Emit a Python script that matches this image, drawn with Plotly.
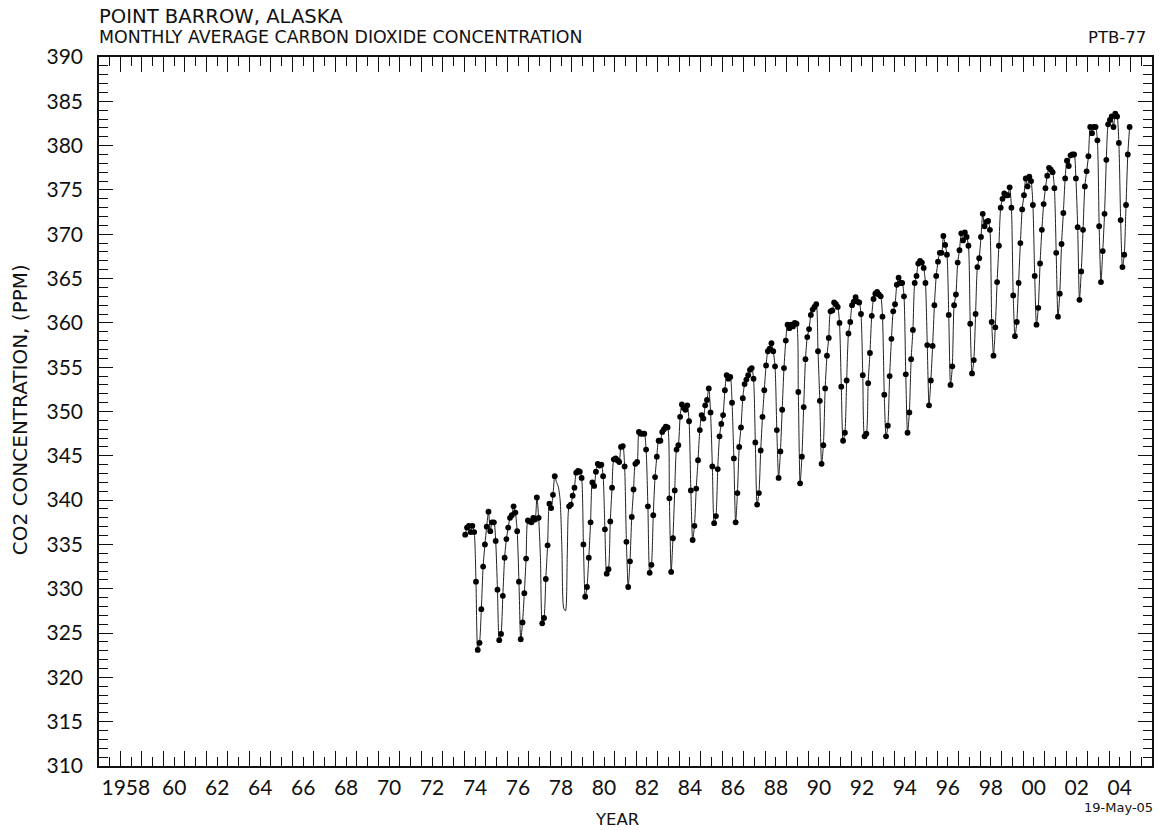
import plotly.graph_objects as go

# ---------------- data ----------------
first_year = 1974

# monthly average CO2 (ppm), Jan..Dec, one row per year 1974-2004
co2_ppm = [
    336.1, 336.9, 337.1, 336.4, 337.1, 336.4, 330.8, 323.1, 323.9, 327.7, 332.5, 335.0,  # 1974
    337.0, 338.7, 336.5, 337.5, 337.5, 335.4, 329.9, 324.2, 324.9, 329.2, 333.5, 335.6,  # 1975
    336.9, 338.0, 338.3, 339.3, 338.6, 336.5, 330.8, 324.3, 326.2, 329.5, 333.4, 337.7,  # 1976
    337.6, 337.5, 338.0, 337.8, 340.3, 338.0, 333.5, 326.1, 326.7, 331.1, 334.9, 339.6,  # 1977
    339.1, 340.6, 342.7, 342.0, 341.5, 340.0, 334.4, 327.8, 327.5, 334.0, 339.3, 339.5,  # 1978
    340.5, 341.4, 343.1, 343.3, 343.2, 342.5, 335.0, 329.1, 330.2, 333.5, 337.5, 342.0,  # 1979
    341.6, 343.2, 344.1, 343.9, 344.0, 342.7, 336.7, 331.7, 332.2, 337.6, 341.4, 344.6,  # 1980
    344.7, 344.5, 344.3, 346.0, 346.1, 343.8, 335.3, 330.2, 333.1, 338.1, 341.2, 344.1,  # 1981
    344.3, 347.7, 347.5, 347.5, 347.5, 345.7, 339.3, 331.8, 332.7, 338.3, 342.6, 344.9,  # 1982
    346.7, 346.7, 347.7, 348.0, 348.3, 348.2, 340.2, 331.9, 335.7, 341.1, 345.7, 346.2,  # 1983
    349.4, 350.8, 350.4, 350.2, 350.7, 348.9, 341.1, 335.5, 337.1, 341.3, 344.5, 347.9,  # 1984
    349.6, 349.2, 350.7, 351.3, 352.6, 349.9, 343.8, 337.4, 338.2, 343.5, 347.2, 348.6,  # 1985
    349.6, 352.4, 354.1, 353.7, 353.9, 351.0, 344.7, 337.5, 340.8, 346.0, 348.2, 351.5,  # 1986
    353.1, 353.6, 354.1, 354.7, 354.9, 353.7, 346.5, 339.5, 340.8, 345.6, 349.4, 352.4,  # 1987
    355.2, 356.8, 357.1, 357.7, 356.8, 355.1, 347.9, 342.5, 345.5, 350.2, 354.9, 358.0,  # 1988
    359.8, 359.4, 359.8, 359.6, 360.0, 359.9, 352.2, 341.9, 344.9, 350.5, 355.9, 358.4,  # 1989
    359.3, 360.9, 361.5, 361.8, 362.1, 356.8, 351.2, 344.1, 346.2, 352.6, 356.3, 358.3,  # 1990
    361.3, 361.4, 362.3, 362.1, 361.8, 360.0, 352.8, 346.7, 347.6, 353.5, 358.8, 360.1,  # 1991
    362.0, 362.4, 362.9, 362.4, 362.3, 361.0, 354.1, 347.2, 347.5, 353.2, 356.6, 360.8,  # 1992
    362.7, 363.3, 363.5, 363.2, 363.0, 360.7, 351.9, 347.2, 348.4, 354.0, 358.2, 361.3,  # 1993
    362.1, 364.3, 365.1, 364.5, 364.5, 363.0, 354.2, 347.6, 349.9, 355.9, 359.2, 364.5,  # 1994
    365.3, 366.7, 367.0, 366.8, 366.2, 364.5, 357.5, 350.7, 353.5, 357.4, 362.0, 365.3,  # 1995
    366.9, 367.9, 367.9, 369.8, 368.8, 367.7, 360.9, 353.0, 355.1, 362.0, 363.2, 366.8,  # 1996
    368.2, 370.1, 369.3, 370.2, 369.7, 368.7, 359.9, 354.3, 355.8, 361.0, 366.3, 367.3,  # 1997
    369.7, 372.3, 370.9, 371.4, 371.5, 370.5, 360.1, 356.3, 359.5, 364.6, 368.7, 373.0,  # 1998
    374.0, 374.6, 374.4, 374.4, 375.3, 373.0, 363.1, 358.5, 360.1, 364.5, 369.0, 372.8,  # 1999
    374.4, 376.3, 375.4, 376.5, 376.0, 373.3, 365.3, 359.8, 361.7, 366.7, 370.5, 373.4,  # 2000
    375.2, 376.6, 377.5, 377.3, 377.0, 375.2, 367.9, 360.7, 363.3, 368.9, 372.4, 376.3,  # 2001
    378.3, 377.7, 378.9, 379.0, 379.0, 376.3, 370.8, 362.6, 365.8, 370.5, 375.4, 377.1,  # 2002
    378.8, 382.1, 381.4, 382.1, 382.1, 380.6, 370.9, 364.6, 368.1, 372.3, 378.4, 382.4,  # 2003
    382.9, 383.3, 382.1, 383.6, 383.3, 380.3, 371.6, 366.3, 367.7, 373.3, 379.0, 382.1,  # 2004
]

# months with no observation (only the fitted curve passes there): (year, month)
gap_months = [(1977, 7), (1978, 4), (1978, 5), (1978, 6), (1978, 7),
              (1978, 8), (1978, 9), (1978, 10)]

# x-axis labels (placed mid-year) and y range
label_years = [1958, 1960, 1962, 1964, 1966, 1968, 1970, 1972, 1974, 1976, 1978,
               1980, 1982, 1984, 1986, 1988, 1990, 1992, 1994, 1996, 1998, 2000,
               2002, 2004]
label_text = ["1958\u00a0\u00a0", "60", "62", "64", "66", "68", "70", "72",
              "74", "76", "78", "80", "82", "84", "86", "88", "90", "92", "94", "96",
              "98", "00", "02", "04"]
x_range = [1957, 2006]
y_range = [310, 390]

# ---------------- build ----------------
times = [first_year + i // 12 + ((i % 12) + 0.5) / 12 for i in range(len(co2_ppm))]
gap_set = set(gap_months)
obs = [None if (first_year + i // 12, i % 12 + 1) in gap_set else v
       for i, v in enumerate(co2_ppm)]

label_map = dict(zip(label_years, label_text))
half_years = [y + 0.5 for y in range(x_range[0], x_range[1])]
half_text = [label_map.get(int(h - 0.5), "") for h in half_years]

TICKFONT = "Lato"
TFONT = "DejaVu Sans"
INK = "#111111"

fig = go.Figure()
fig.add_trace(go.Scatter(
    x=times, y=co2_ppm, mode="lines",
    line=dict(color="#222222", width=1, shape="spline", smoothing=0.7),
    hoverinfo="skip", showlegend=False))
fig.add_trace(go.Scatter(
    x=times, y=obs, mode="markers",
    marker=dict(color="black", size=5.8),
    showlegend=False))

axis_common = dict(
    showline=True, linecolor="#111111", linewidth=1.5, mirror="allticks",
    ticks="inside", tickcolor="#111111", tickwidth=1.3,
    showgrid=False, zeroline=False,
    tickfont=dict(family=TICKFONT, size=21, color=INK),
)

fig.update_xaxes(
    range=x_range, tickmode="array", tickvals=half_years, ticktext=half_text,
    ticklen=9, ticklabelstandoff=2, tickangle=0,
    minor=dict(tickmode="array", tickvals=list(range(x_range[0] + 1, x_range[1])),
               ticks="inside", ticklen=15, tickwidth=1.3, tickcolor="#111111"),
    **axis_common)
fig.update_yaxes(
    range=y_range, tickmode="linear", tick0=310, dtick=5,
    ticklen=14, ticklabelstandoff=10,
    minor=dict(dtick=1, tick0=310, ticks="inside", ticklen=9, tickwidth=1.3,
               tickcolor="#111111"),
    **axis_common)

W, H = 1159, 830
L, R, T, B = 99, 5, 57, 64
pw, ph = W - L - R, H - T - B


def px(x):
    return (x - L) / pw


def py(y):
    return (H - B - y) / ph


ann = [
    dict(text="POINT BARROW, ALASKA", x=px(97), y=py(16), xanchor="left",
         yanchor="middle", font=dict(family=TFONT, size=19.6, color=INK)),
    dict(text="MONTHLY AVERAGE CARBON DIOXIDE CONCENTRATION", x=px(97), y=py(37),
         xanchor="left", yanchor="middle",
         font=dict(family=TFONT, size=17.4, color=INK)),
    dict(text="PTB-77", x=px(1150), y=py(37), xanchor="right", yanchor="middle",
         font=dict(family=TFONT, size=16.5, color=INK)),
    dict(text="CO2 CONCENTRATION, (PPM)", x=px(20), y=py(410), xanchor="center",
         yanchor="middle", textangle=-90,
         font=dict(family=TFONT, size=20, color=INK)),
    dict(text="YEAR", x=px(618), y=py(819), xanchor="center", yanchor="middle",
         font=dict(family=TFONT, size=16.5, color=INK)),
    dict(text="19-May-05", x=px(1157), y=py(808), xanchor="right", yanchor="middle",
         font=dict(family=TFONT, size=13, color=INK)),
]
for a in ann:
    a.update(xref="paper", yref="paper", showarrow=False)

fig.update_layout(
    width=W, height=H,
    margin=dict(l=L, r=R, t=T, b=B, pad=0),
    paper_bgcolor="white", plot_bgcolor="white",
    annotations=ann,
    font=dict(family=TICKFONT, color=INK),
)

fig.write_html("out.html", config={"displayModeBar": False},
               post_script="document.body.style.margin='0';document.body.style.overflow='hidden';")
